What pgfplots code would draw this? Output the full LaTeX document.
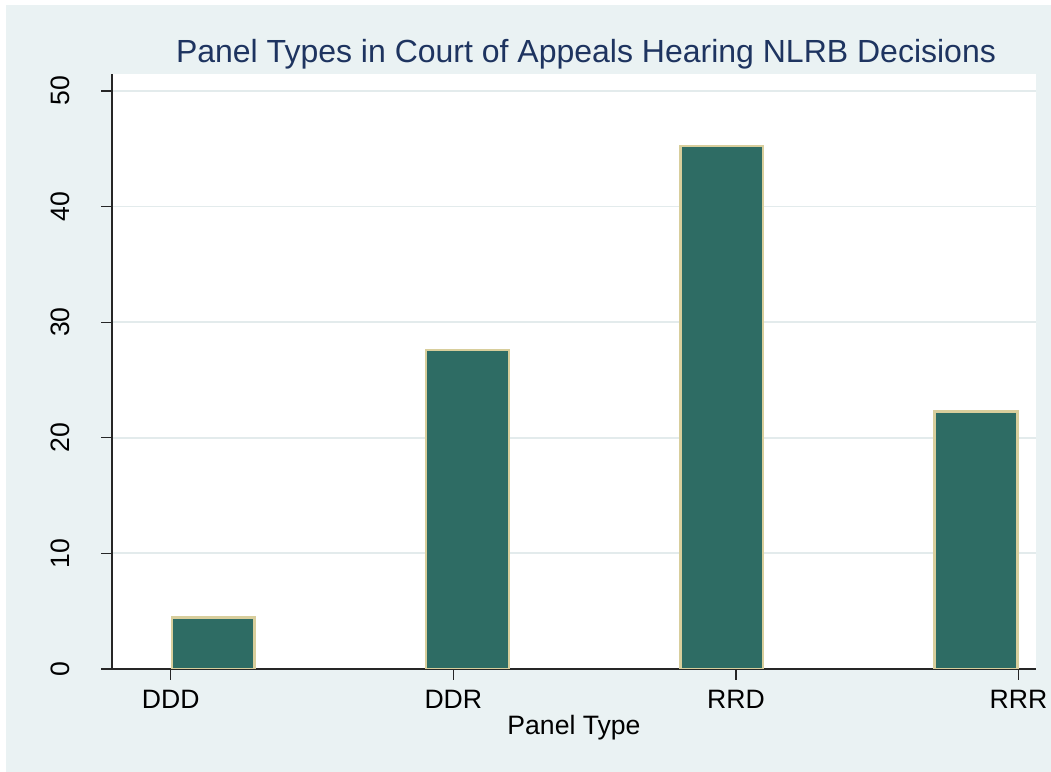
\documentclass[border=0pt]{standalone}
\usepackage{fontspec}
\setmainfont{Liberation Sans}
\usepackage{pgfplots}
\pgfplotsset{compat=1.18}
\definecolor{bgcol}{RGB}{234,242,243}
\definecolor{barfill}{RGB}{46,108,100}
\definecolor{baredge}{RGB}{216,206,156}
\definecolor{titlecol}{RGB}{30,52,96}
\begin{document}
\begin{tikzpicture}
\useasboundingbox (0,0) rectangle (525.5pt,386pt);
\fill[white] (0,0) rectangle (525.5pt,386pt);
\fill[bgcol] (3pt,0) rectangle (525.5pt,383.5pt);
% title
\node[anchor=base, inner sep=0pt, text=titlecol,
  font=\fontsize{16}{18}\selectfont] at (293pt,354.5pt)
  {Panel Types in Court of Appeals Hearing NLRB Decisions};
\begin{axis}[
  at={(56pt,51.5pt)}, anchor=south west,
  scale only axis, width=462pt, height=297.5pt,
  xmin=0.792, xmax=4.062, ymin=0, ymax=51.47,
  axis lines*=left,
  axis background/.style={fill=white},
  axis line style={black!85, line width=0.6pt},
  tick style={black!85, line width=0.6pt},
  major tick length=5.25pt, tick align=outside,
  xtick={1,2,3,4}, xticklabels={DDD,DDR,RRD,RRR},
  ytick={10,20,30,40,50},
  extra y ticks={0}, extra y tick style={grid=none},
  ymajorgrids, major grid style={bgcol!95!black!60!bgcol, line width=0.9pt},
  tick label style={font=\fontsize{13.3}{16}\selectfont},
  /pgf/number format/assume math mode=true,
  xticklabel style={anchor=north, inner sep=0pt, yshift=-5.25pt},
  yticklabel style={xshift=-15.75pt, rotate=90, anchor=south, inner sep=0pt},
  xlabel={Panel Type},
  xlabel style={at={(axis description cs:0.5,-0.1109)}, anchor=base,
    inner sep=0pt, font=\fontsize{13.3}{16}\selectfont},
]
\addplot[ybar, bar width=0.2926, bar shift=0pt, fill=barfill,
  draw=baredge, line width=1.3pt]
  coordinates {(1.15,4.45) (2.05,27.6) (2.95,45.25) (3.85,22.3)};
\end{axis}
\end{tikzpicture}
\end{document}
